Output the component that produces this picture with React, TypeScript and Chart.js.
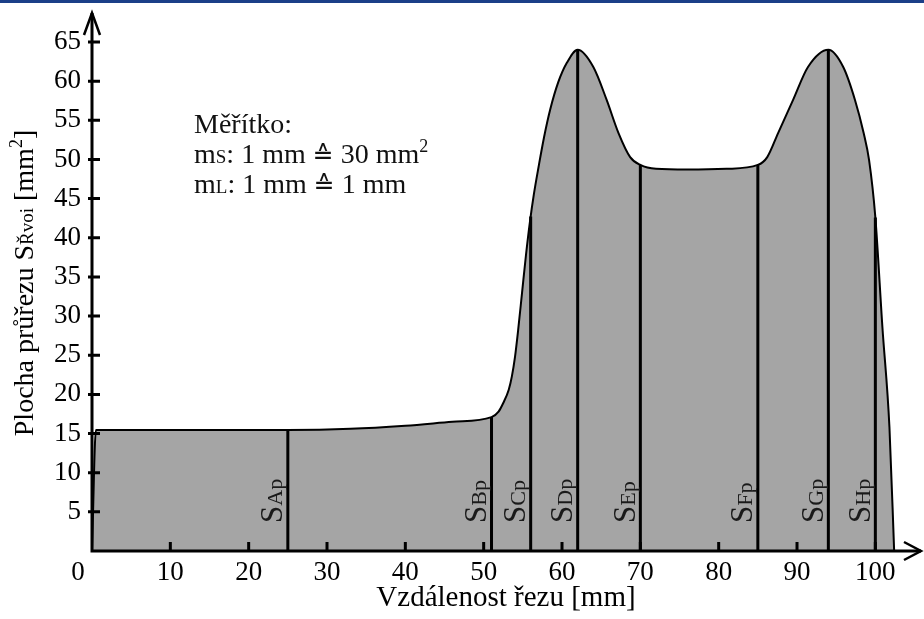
import React, { useEffect, useRef } from 'react';
import { Chart, registerables } from 'chart.js';

Chart.register(...registerables);

// Outline of the cross-section area curve (x in mm, y in mm^2)
const outlineX = [0, 0.5, 25, 33, 40, 46, 51, 51.9, 52.5, 53.2, 53.6, 54.0, 54.4, 54.9, 55.4, 55.9, 56.4, 57.0, 57.7, 58.5, 59.5, 60.6, 62, 64.0, 65.7, 67.2, 68.7, 70, 72, 76, 81, 85, 86.2, 87.6, 89.5, 91.4, 94, 95.9, 97.4, 98.5, 99.2, 100, 100.9, 101.8, 102.4];
const outlineY = [0, 15.45, 15.45, 15.6, 16.0, 16.5, 17.1, 17.8, 18.9, 20.6, 22.3, 24.8, 28.2, 33.0, 37.8, 42.0, 45.5, 49.0, 52.8, 56.4, 59.8, 62.3, 64, 61.8, 57.6, 53.4, 50.3, 49.3, 48.8, 48.7, 48.8, 49.3, 50.3, 53.4, 57.6, 61.8, 64, 61.8, 57.6, 53.4, 49.9, 42.6, 28.6, 15.8, 0];

// Section lines
const sectionX = [25, 51, 56, 62, 70, 85, 94, 100];
const sectionTop = [15.45, 17.1, 42.7, 64, 49.3, 49.3, 64, 42.6];
const sectionLetters = ['A', 'B', 'C', 'D', 'E', 'F', 'G', 'H'];

// Axis ranges / ticks
const xMin = 0;
const xMax = 105.7;
const xStep = 10;
const yMin = 0;
const yMax = 68.7;
const yStep = 5;

const xTitle = 'Vzdálenost řezu [mm]';
const yTitleParts = [
  { text: 'Plocha průřezu S', size: 28, dy: 0 },
  { text: 'Řvoi', size: 19, dy: 0 },
  { text: ' [mm', size: 28, dy: 0 },
  { text: '2', size: 18, dy: -11 },
  { text: ']', size: 28, dy: 0 },
];
const scaleLines = [
  [{ text: 'Měřítko:', size: 28, dy: 0 }],
  [
    { text: 'm', size: 28, dy: 0 },
    { text: 'S', size: 19, dy: 0 },
    { text: ': 1 mm ', size: 28, dy: 0 },
    { text: '≙', size: 25, dy: 0 },
    { text: ' 30 mm', size: 28, dy: 0 },
    { text: '2', size: 18, dy: -11 },
  ],
  [
    { text: 'm', size: 28, dy: 0 },
    { text: 'L', size: 19, dy: 0 },
    { text: ': 1 mm ', size: 28, dy: 0 },
    { text: '≙', size: 25, dy: 0 },
    { text: ' 1 mm', size: 28, dy: 0 },
  ],
];

const SERIF = "'Liberation Serif', 'Times New Roman', 'DejaVu Serif', 'DejaVu Sans', serif";

type Part = { text: string; size: number; dy: number };

function measureRich(ctx: CanvasRenderingContext2D, parts: Part[]) {
  let w = 0;
  for (const p of parts) {
    ctx.font = `${p.size}px ${SERIF}`;
    w += ctx.measureText(p.text).width;
  }
  return w;
}

function drawRich(ctx: CanvasRenderingContext2D, parts: Part[], x: number, y: number) {
  let cx = x;
  for (const p of parts) {
    ctx.font = `${p.size}px ${SERIF}`;
    ctx.fillText(p.text, cx, y + p.dy);
    cx += ctx.measureText(p.text).width;
  }
}

const decorPlugin = {
  id: 'decor',
  afterDraw(chart: any) {
    const ctx: CanvasRenderingContext2D = chart.ctx;
    const xs = chart.scales.x;
    const ys = chart.scales.y;
    const x0 = xs.getPixelForValue(0);
    const y0 = ys.getPixelForValue(0);
    const xEnd = chart.chartArea.right + 1;
    const yEnd = chart.chartArea.top;

    ctx.save();
    ctx.strokeStyle = '#000';
    ctx.fillStyle = '#000';
    ctx.lineCap = 'butt';

    // section labels
    sectionX.forEach((sx, i) => {
      const px = xs.getPixelForValue(sx);
      ctx.save();
      ctx.translate(px - 5.5, y0 - 28);
      ctx.rotate(-Math.PI / 2);
      ctx.textAlign = 'left';
      ctx.textBaseline = 'alphabetic';
      ctx.fillStyle = '#1a1a1a';
      drawRich(ctx, [
        { text: 'S', size: 31, dy: 0 },
        { text: sectionLetters[i] + 'p', size: 22, dy: 0 },
      ], 0, 0);
      ctx.restore();
    });

    // axes
    ctx.lineWidth = 3;
    ctx.beginPath();
    ctx.moveTo(x0 - 1.5, y0);
    ctx.lineTo(xEnd, y0);
    ctx.moveTo(x0, y0 + 1.5);
    ctx.lineTo(x0, yEnd);
    ctx.stroke();

    // arrows
    ctx.lineWidth = 2.5;
    ctx.lineJoin = 'miter';
    ctx.beginPath();
    ctx.moveTo(x0 - 8, yEnd + 22);
    ctx.lineTo(x0, yEnd);
    ctx.lineTo(x0 + 8, yEnd + 22);
    ctx.stroke();
    ctx.beginPath();
    ctx.moveTo(xEnd - 17, y0 - 9);
    ctx.lineTo(xEnd, y0);
    ctx.lineTo(xEnd - 17, y0 + 9);
    ctx.stroke();

    // tick marks
    ctx.lineWidth = 3;
    ctx.beginPath();
    ys.ticks.forEach((t: any) => {
      if (t.value <= 0) return;
      const py = ys.getPixelForValue(t.value);
      ctx.moveTo(x0 - 4, py);
      ctx.lineTo(x0 + 8, py);
    });
    xs.ticks.forEach((t: any) => {
      if (t.value <= 0) return;
      const px = xs.getPixelForValue(t.value);
      ctx.moveTo(px, y0);
      ctx.lineTo(px, y0 - 9);
    });
    ctx.stroke();

    // origin label
    ctx.font = `27px ${SERIF}`;
    ctx.textAlign = 'center';
    ctx.textBaseline = 'middle';
    ctx.fillText('0', x0 - 14, y0 + 22);

    // y title
    ctx.save();
    ctx.translate(33, 283);
    ctx.rotate(-Math.PI / 2);
    ctx.textAlign = 'left';
    ctx.textBaseline = 'alphabetic';
    const tw = measureRich(ctx, yTitleParts);
    drawRich(ctx, yTitleParts, -tw / 2, 0);
    ctx.restore();

    // scale annotation
    ctx.textAlign = 'left';
    ctx.textBaseline = 'alphabetic';
    ctx.fillStyle = '#111';
    scaleLines.forEach((parts, i) => {
      drawRich(ctx, parts, 194, 133 + i * 30);
    });

    ctx.restore();
  },
};

export default function App() {
  const ref = useRef<HTMLCanvasElement>(null);

  useEffect(() => {
    const areaData = outlineX.map((x, i) => ({ x, y: outlineY[i] }));
    const lineData: { x: number; y: number | null }[] = [];
    sectionX.forEach((x, i) => {
      lineData.push({ x, y: 0 }, { x, y: sectionTop[i] }, { x, y: null });
    });
    const tickFont = { family: SERIF, size: 27 };
    const zeroPad = (s: any) => {
      s.paddingTop = 0;
      s.paddingBottom = 0;
      s.paddingLeft = 0;
      s.paddingRight = 0;
    };

    const chart = new Chart(ref.current as HTMLCanvasElement, {
      type: 'line',
      data: {
        datasets: [
          {
            label: 'sections',
            data: lineData as any,
            borderColor: '#000',
            borderWidth: 3,
            pointRadius: 0,
            tension: 0,
            fill: false,
            spanGaps: false,
            borderCapStyle: 'butt',
            order: 1,
          },
          {
            label: 'area',
            data: areaData,
            borderColor: '#000',
            borderWidth: 2,
            backgroundColor: '#a5a5a5',
            fill: 'origin',
            pointRadius: 0,
            cubicInterpolationMode: 'monotone',
            order: 2,
          },
        ],
      },
      options: {
        animation: false,
        responsive: false,
        devicePixelRatio: 1,
        events: [],
        layout: { padding: { top: 13, right: 4, left: 0, bottom: 0 } },
        plugins: {
          legend: { display: false },
          tooltip: { enabled: false },
        },
        scales: {
          x: {
            type: 'linear',
            min: xMin,
            max: xMax,
            afterFit: (s: any) => { s.height = 68; zeroPad(s); },
            grid: { display: false, drawTicks: false },
            border: { display: false },
            ticks: {
              stepSize: xStep,
              includeBounds: false,
              autoSkip: false,
              maxRotation: 0,
              padding: 6,
              color: '#000',
              font: tickFont,
              callback: (v: any) => (v === 0 ? '' : String(v)),
            },
            title: {
              display: true,
              text: xTitle,
              color: '#000',
              font: { family: SERIF, size: 29 },
              padding: { top: 0, bottom: 3 },
            },
          },
          y: {
            type: 'linear',
            min: yMin,
            max: yMax,
            afterFit: (s: any) => { s.width = 92; zeroPad(s); },
            grid: { display: false, drawTicks: false },
            border: { display: false },
            ticks: {
              stepSize: yStep,
              includeBounds: false,
              autoSkip: false,
              padding: 11,
              color: '#000',
              font: tickFont,
              callback: (v: any) => (v === 0 ? '' : String(v)),
            },
          },
        },
      } as any,
      plugins: [decorPlugin],
    });
    return () => chart.destroy();
  }, []);

  return (
    <div style={{ position: 'fixed', left: 0, top: 0, width: 924, height: 619, background: '#fff', overflow: 'hidden' }}>
      <canvas ref={ref} width={924} height={619} style={{ display: 'block', width: 924, height: 619 }} />
      <div style={{ position: 'absolute', left: 0, top: 0, width: 924, height: 3, background: '#1b3f88' }} />
    </div>
  );
}
